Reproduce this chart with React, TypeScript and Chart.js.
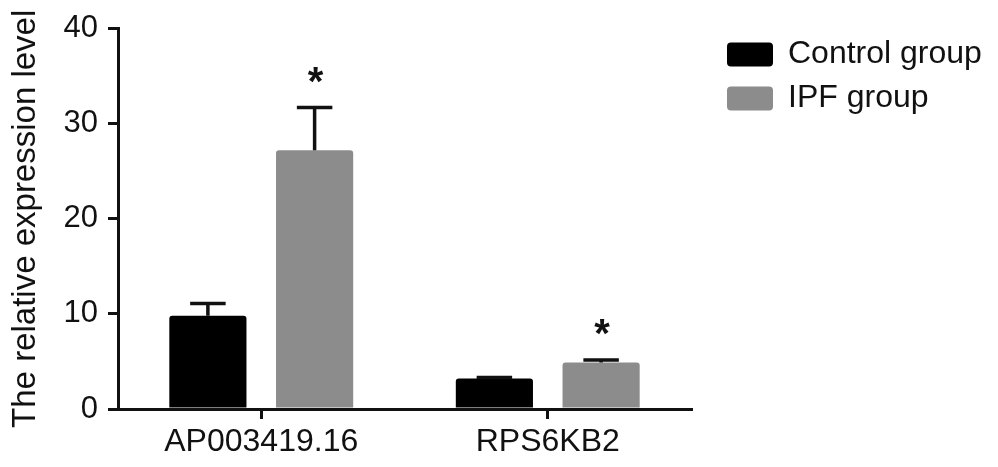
import React, { useEffect, useRef } from 'react';
import { Chart, registerables } from 'chart.js';

Chart.register(...registerables);

const categories = ['AP003419.16', 'RPS6KB2'];
const seriesNames = ['Control group', 'IPF group'];
const controlValues = [9.8, 3.2];
const ipfValues = [27.2, 4.9];
const controlErrors = [1.3, 0.1];
const ipfErrors = [4.5, 0.25];
const controlSignificant = [false, false];
const ipfSignificant = [true, true];
const yTicks = [0, 10, 20, 30, 40];
const seriesColors = ['#000000', '#8c8c8c'];
const yAxisTitle = 'The relative expression level';

const FONT = "'Liberation Sans', Arial, sans-serif";
const INK = '#111111';

const errorBarPlugin = {
  id: 'errorBars',
  afterDatasetsDraw(chart: any) {
    const ctx = chart.ctx;
    const yScale = chart.scales.y;
    chart.data.datasets.forEach((ds: any, i: number) => {
      const meta = chart.getDatasetMeta(i);
      meta.data.forEach((el: any, j: number) => {
        const v = ds.data[j];
        const e = ds.errors[j];
        const yTop = yScale.getPixelForValue(v + e);
        const capHalf = el.width * 0.23;
        ctx.save();
        ctx.strokeStyle = INK;
        ctx.lineWidth = 3.5;
        ctx.lineCap = 'butt';
        ctx.beginPath();
        ctx.moveTo(el.x, el.y);
        ctx.lineTo(el.x, yTop);
        ctx.moveTo(el.x - capHalf, yTop);
        ctx.lineTo(el.x + capHalf, yTop);
        ctx.stroke();
        if (ds.significant[j]) {
          ctx.fillStyle = INK;
          ctx.font = `bold 40px ${FONT}`;
          ctx.textAlign = 'center';
          ctx.textBaseline = 'alphabetic';
          ctx.fillText('*', el.x + 1, yTop - 34 + 21);
        }
        ctx.restore();
      });
    });
  },
};

const legendPlugin = {
  id: 'sideLegend',
  afterDraw(chart: any) {
    const ctx = chart.ctx;
    const area = chart.chartArea;
    chart.data.datasets.forEach((ds: any, i: number) => {
      const bx = area.right + 36;
      const by = area.top + 14 + i * 44;
      ctx.save();
      ctx.fillStyle = ds.backgroundColor;
      ctx.beginPath();
      (ctx as any).roundRect(bx, by, 46, 24, 4);
      ctx.fill();
      ctx.fillStyle = INK;
      ctx.font = `32px ${FONT}`;
      ctx.textAlign = 'left';
      ctx.textBaseline = 'alphabetic';
      ctx.fillText(ds.label, bx + 61, by + 20);
      ctx.restore();
    });
  },
};

export default function App() {
  const canvasRef = useRef<HTMLCanvasElement | null>(null);

  useEffect(() => {
    if (!canvasRef.current) return;
    Chart.defaults.font.family = FONT;
    const chart = new Chart(canvasRef.current, {
      type: 'bar',
      data: {
        labels: categories,
        datasets: [
          {
            label: seriesNames[0],
            data: controlValues,
            errors: controlErrors,
            significant: controlSignificant,
            backgroundColor: seriesColors[0],
            borderRadius: 3,
            categoryPercentage: 0.745,
            barPercentage: 0.723,
          } as any,
          {
            label: seriesNames[1],
            data: ipfValues,
            errors: ipfErrors,
            significant: ipfSignificant,
            backgroundColor: seriesColors[1],
            borderRadius: 3,
            categoryPercentage: 0.745,
            barPercentage: 0.723,
          } as any,
        ],
      },
      options: {
        animation: false,
        responsive: true,
        maintainAspectRatio: false,
        layout: { padding: { top: 28, right: 307, bottom: 0, left: 0 } },
        plugins: {
          legend: { display: false },
          tooltip: { enabled: false },
        },
        scales: {
          x: {
            afterFit: (s: any) => {
              s.height = 58;
            },
            grid: {
              offset: false,
              drawOnChartArea: false,
              drawTicks: true,
              tickLength: 10,
              color: INK,
              lineWidth: 3,
            },
            border: { display: true, color: INK, width: 3 },
            ticks: {
              color: INK,
              font: { size: 32, family: FONT },
              padding: 4,
              maxRotation: 0,
            },
          },
          y: {
            min: 0,
            max: 40,
            afterFit: (s: any) => {
              s.width = 118;
            },
            afterBuildTicks: (s: any) => {
              s.ticks = yTicks.map((v) => ({ value: v }));
            },
            grid: {
              drawOnChartArea: false,
              drawTicks: true,
              tickLength: 10,
              color: INK,
              lineWidth: 3,
            },
            border: { display: true, color: INK, width: 3 },
            ticks: {
              color: INK,
              font: { size: 31, family: FONT },
              padding: 10,
            },
            title: {
              display: true,
              text: yAxisTitle,
              color: INK,
              font: { size: 33, family: FONT },
              padding: { top: 6, bottom: 0 },
            },
          },
        },
      },
      plugins: [errorBarPlugin, legendPlugin],
    });
    return () => chart.destroy();
  }, []);

  return (
    <div style={{ position: 'fixed', left: 0, top: 0, width: 998, height: 467, background: '#fff' }}>
      <canvas ref={canvasRef} />
    </div>
  );
}
